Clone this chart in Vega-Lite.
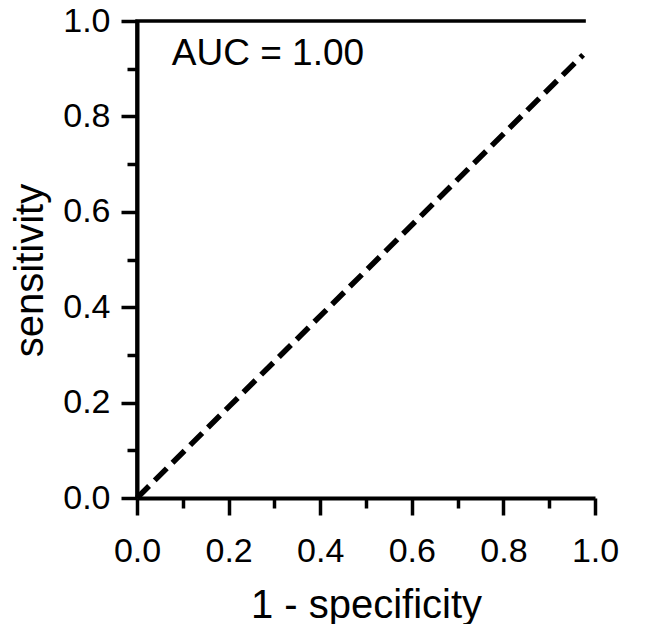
{
  "$schema": "https://vega.github.io/schema/vega-lite/v6.json",
  "width": 458,
  "height": 477,
  "autosize": {"type": "none"},
  "padding": {"left": 137, "top": 21, "right": 53, "bottom": 126},
  "background": "white",
  "config": {"view": {"stroke": null}, "font": "Liberation Sans"},
  "layer": [
    {
      "data": {"values": [
        {"fpr": 0, "tpr": 0, "ord": 1},
        {"fpr": 0, "tpr": 1, "ord": 2},
        {"fpr": 0.98, "tpr": 1, "ord": 3}
      ]},
      "mark": {"type": "line", "color": "black", "strokeWidth": 3.5},
      "encoding": {
        "x": {
          "field": "fpr", "type": "quantitative",
          "scale": {"domain": [0, 1], "nice": false},
          "axis": {
            "values": [0, 0.1, 0.2, 0.3, 0.4, 0.5, 0.6, 0.7, 0.8, 0.9, 1],
            "grid": false,
            "domainColor": "black", "domainWidth": 4,
            "tickColor": "black", "tickWidth": 3.5,
            "tickSize": {"condition": {"test": "round(datum.value*10) % 2 == 1", "value": 10}, "value": 17},
            "labelExpr": "round(datum.value*10) % 2 == 0 ? format(datum.value, '.1f') : ''",
            "labelFontSize": 34, "labelColor": "black", "labelPadding": 19,
            "labelFlush": false, "labelOverlap": false,
            "title": "1 - specificity", "titleFontSize": 40, "titleFontWeight": "normal",
            "titleColor": "black", "titleBaseline": "alphabetic", "titleY": 119
          }
        },
        "y": {
          "field": "tpr", "type": "quantitative",
          "scale": {"domain": [0, 1], "nice": false},
          "axis": {
            "values": [0, 0.1, 0.2, 0.3, 0.4, 0.5, 0.6, 0.7, 0.8, 0.9, 1],
            "grid": false,
            "domainColor": "black", "domainWidth": 4,
            "tickColor": "black", "tickWidth": 3.5,
            "tickSize": {"condition": {"test": "round(datum.value*10) % 2 == 1", "value": 10}, "value": 16},
            "labelExpr": "round(datum.value*10) % 2 == 0 ? format(datum.value, '.1f') : ''",
            "labelFontSize": 34, "labelColor": "black", "labelPadding": 11,
            "labelFlush": false, "labelOverlap": false,
            "title": "sensitivity", "titleFontSize": 40, "titleFontWeight": "normal",
            "titleColor": "black", "titleBaseline": "alphabetic", "titleX": -95, "titleY": 249
          }
        },
        "order": {"field": "ord", "type": "quantitative"}
      }
    },
    {
      "data": {"values": [
        {"fpr": 0, "tpr": 0},
        {"fpr": 0.974, "tpr": 0.929}
      ]},
      "mark": {"type": "line", "color": "black", "strokeWidth": 5.5, "strokeDash": [17, 8]},
      "encoding": {
        "x": {"field": "fpr", "type": "quantitative"},
        "y": {"field": "tpr", "type": "quantitative"}
      }
    },
    {
      "data": {"values": [{"fpr": 0.076, "tpr": 0.908, "label": "AUC = 1.00"}]},
      "mark": {"type": "text", "align": "left", "baseline": "alphabetic", "fontSize": 37, "color": "black"},
      "encoding": {
        "x": {"field": "fpr", "type": "quantitative"},
        "y": {"field": "tpr", "type": "quantitative"},
        "text": {"field": "label"}
      }
    }
  ]
}
